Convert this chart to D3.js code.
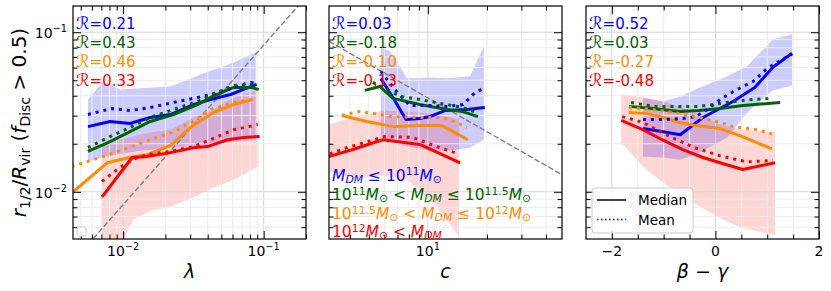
<!DOCTYPE html>
<html><head><meta charset="utf-8">
<script src="https://cdn.jsdelivr.net/npm/d3@7"></script>
<style>body{margin:0;background:#fff} svg{display:block} text{font-family:"DejaVu Sans",sans-serif; white-space:pre}</style>
</head><body><svg id="c" width="831" height="291"></svg>
<script>
// ---------------- DATA ----------------
const massColors = ["#0000ff", "#006400", "#ff8c00", "#ff0000"];
// Panel 1: lambda
const lamBlueMedian = [[0.00562,0.0256],[0.00808,0.0276],[0.0112,0.0268],[0.0156,0.0292],[0.0217,0.0305],[0.0316,0.0352],[0.0418,0.0379],[0.0581,0.0407],[0.0720,0.0438],[0.0891,0.0471]];
const lamBlueMean = [[0.00562,0.0305],[0.00834,0.0333],[0.0112,0.0323],[0.0156,0.0337],[0.0228,0.0363],[0.0338,0.0390],[0.0418,0.0407],[0.0611,0.0451],[0.0808,0.0485],[0.0877,0.0478]];
const lamGreenMedian = [[0.00562,0.0179],[0.00808,0.0206],[0.0112,0.0238],[0.0156,0.0276],[0.0228,0.0305],[0.0338,0.0352],[0.0418,0.0390],[0.0611,0.0451],[0.0808,0.0451],[0.0921,0.0438]];
const lamGreenMean = [[0.00562,0.0189],[0.00808,0.0222],[0.0112,0.0253],[0.0156,0.0292],[0.0228,0.0328],[0.0338,0.0368],[0.0418,0.0401],[0.0611,0.0464],[0.0808,0.0471],[0.0891,0.0464]];
const lamOrangeMedian = [[0.0043,0.0098],[0.00769,0.0152],[0.0112,0.0164],[0.01484,0.0171],[0.0217,0.0195],[0.0301,0.0253],[0.0439,0.0314],[0.0611,0.0352],[0.0834,0.0379]];
const lamOrangeMean = [[0.0043,0.0144],[0.00685,0.0164],[0.0100,0.0184],[0.0156,0.0212],[0.0228,0.0238],[0.0316,0.0276],[0.0418,0.0328],[0.0611,0.0363],[0.0808,0.0379]];
const lamRedMedian = [[0.00708,0.0093],[0.0116,0.0164],[0.01436,0.0166],[0.0217,0.0176],[0.0316,0.0189],[0.0398,0.0192],[0.0553,0.0212],[0.0720,0.0219],[0.0936,0.0222]];
const lamRedMean = [[0.00708,0.0116],[0.00906,0.0138],[0.0116,0.0159],[0.01484,0.0171],[0.0217,0.0179],[0.0316,0.0192],[0.0418,0.0212],[0.0611,0.0245],[0.0781,0.0256],[0.0906,0.0264]];
const lamBlueBand = [[0.00562,0.0154,0.0379],[0.0072,0.0164,0.0492],[0.00952,0.0173,0.0438],[0.0132,0.0181,0.0445],[0.0217,0.0189,0.0457],[0.0355,0.0195,0.0544],[0.0611,0.0206,0.0647],[0.0877,0.0212,0.0748]];
const lamRedBand = [[0.00708,0.0040,0.0192],[0.00952,0.0045,0.0212],[0.01179,0.00667,0.0222],[0.0156,0.0076,0.0235],[0.0217,0.00805,0.0245],[0.0316,0.0092,0.0292],[0.0439,0.0106,0.0328],[0.0611,0.0119,0.0390],[0.0921,0.0144,0.0438]];
const lamDashed = [[0.004,0.00332],[0.25,0.2075]];
const rLambda = ["0.21","0.43","0.46","0.33"];

// Panel 2: concentration c
const cBlueMedian = [[5.75,0.0514],[6.63,0.0390],[7.73,0.0284],[9.10,0.0288],[10.24,0.0296],[12.2,0.0323],[15.8,0.0328],[19.5,0.0337]];
const cBlueMean = [[5.75,0.0569],[6.78,0.0438],[8.09,0.0347],[10.24,0.0347],[12.5,0.0343],[15.1,0.0352],[17.0,0.0407],[19.1,0.0445]];
const cGreenMedian = [[4.77,0.0432],[5.69,0.0457],[6.63,0.0385],[9.10,0.0352],[12.5,0.0328],[14.9,0.0319],[18.0,0.0296]];
const cGreenMean = [[5.24,0.0485],[6.18,0.0438],[7.20,0.0396],[9.10,0.0379],[12.5,0.0352],[15.1,0.0337],[17.8,0.0314]];
const cOrangeMedian = [[3.64,0.0301],[4.88,0.0276],[6.63,0.0256],[8.79,0.0260],[11.8,0.0260],[16.0,0.0212]];
const cOrangeMean = [[3.64,0.0301],[4.50,0.0319],[6.63,0.0296],[9.10,0.0292],[11.9,0.0292],[14.1,0.0272],[15.8,0.0253]];
const cRedMedian = [[3.0,0.0164],[4.14,0.0184],[5.89,0.0212],[9.10,0.0198],[14.6,0.0152]];
const cRedMean = [[3.16,0.0173],[3.86,0.0189],[6.04,0.0222],[8.38,0.0219],[11.1,0.0192],[13.7,0.0176]];
const cBlueBand = [[5.75,0.0222,0.0805],[6.40,0.0206,0.0761],[7.82,0.0192,0.0514],[10.24,0.0181,0.0521],[12.5,0.0181,0.0514],[16.4,0.0189,0.0529],[19.3,0.0212,0.0817]];
const cRedBand = [[3.0,0.0134,0.0260],[4.34,0.0122,0.0296],[5.89,0.0126,0.0323],[7.82,0.0119,0.0319],[10.24,0.00891,0.0310],[12.5,0.00667,0.0296],[14.4,0.00521,0.0284]];
const cDashed = [[3.13,0.0877],[48.3,0.0128]];
const rConc = ["0.03","-0.18","-0.10","-0.13"];

// Panel 3: beta - gamma
const bgBlueMedian = [[-1.40,0.0249],[-1.01,0.0238],[-0.68,0.0228],[-0.24,0.0292],[0.34,0.0368],[0.76,0.0451],[1.11,0.0603],[1.48,0.0738]];
const bgBlueMean = [[-1.40,0.0284],[-1.01,0.0284],[-0.63,0.0288],[-0.38,0.0296],[-0.16,0.0328],[0.09,0.0379],[0.42,0.0438],[0.73,0.0492],[1.0,0.0594],[1.29,0.0676],[1.48,0.0728]];
const bgGreenMedian = [[-1.67,0.0343],[-1.21,0.0333],[-0.70,0.0319],[-0.32,0.0323],[0.09,0.0333],[0.53,0.0347],[1.25,0.0363]];
const bgGreenMean = [[-1.63,0.0363],[-1.21,0.0343],[-0.70,0.0343],[-0.32,0.0343],[-0.05,0.0352],[0.34,0.0368],[0.73,0.0379],[1.11,0.0385]];
const bgOrangeMedian = [[-1.67,0.0314],[-1.34,0.0310],[-1.01,0.0292],[-0.70,0.0272],[-0.38,0.0260],[0.09,0.0249],[0.47,0.0225],[1.09,0.0186]];
const bgOrangeMean = [[-1.67,0.0337],[-1.21,0.0328],[-0.82,0.0314],[-0.38,0.0296],[0.09,0.0272],[0.34,0.0256],[0.80,0.0245],[1.09,0.0231]];
const bgRedMedian = [[-1.82,0.0280],[-1.40,0.0245],[-1.03,0.0212],[-0.63,0.0184],[-0.24,0.0164],[0.15,0.0150],[0.53,0.0138],[1.15,0.0152]];
const bgRedMean = [[-1.80,0.0296],[-1.40,0.0272],[-0.88,0.0222],[-0.40,0.0189],[0.09,0.0168],[0.61,0.0154],[1.11,0.0157]];
const bgBlueBand = [[-1.40,0.0166,0.0390],[-1.01,0.0164,0.0368],[-0.68,0.0159,0.0396],[-0.30,0.0176,0.0451],[0.23,0.0219,0.0529],[0.61,0.0314,0.0611],[1.11,0.0432,0.0904],[1.48,0.0464,0.0971]];
const bgRedBand = [[-1.82,0.0203,0.0407],[-1.40,0.0144,0.0390],[-1.01,0.0114,0.0368],[-0.43,0.00853,0.0319],[0.09,0.00686,0.0264],[0.51,0.00594,0.0245],[1.15,0.00537,0.0238]];
const rBetaGamma = ["0.52","0.03","-0.27","-0.48"];

// Axis ticks
const yMajor = [0.01, 0.1];
const yMinor = [0.006,0.007,0.008,0.009,0.02,0.03,0.04,0.05,0.06,0.07,0.08,0.09];
const lamMajor = [0.01, 0.1];
const lamMinor = [0.005,0.006,0.007,0.008,0.009,0.02,0.03,0.04,0.05,0.06,0.07,0.08,0.09,0.2];
const cMajor = [10];
const cMinor = [4,5,6,7,8,9,20,30,40];
const bgMajor = [-2, 0, 2];
const bgMinor = [-1.5,-1,-0.5,0.5,1,1.5];

// ---------------- DRAWING ----------------
const svg = d3.select("#c");
const T = 6, B = 239;
const y = d3.scaleLog().domain([0.00506, 0.146]).range([B, T]);
const xs = [
  d3.scaleLog().domain([0.0044, 0.2]).range([73, 306]),
  d3.scaleLog().domain([3.13, 48.3]).range([329, 562]),
  d3.scaleLinear().domain([-2.5, 2]).range([586, 819])
];

function rich(sel, parts, fs, supK = 0.42, subK = 0.22){
  let cur = 0;
  parts.forEach(p => {
    const small = p.s === 'sup' || p.s === 'sub';
    const off = p.s === 'sup' ? -supK*fs : p.s === 'sub' ? subK*fs : 0;
    sel.append('tspan').attr('dy', off - cur).attr('font-size', p.fs || (small ? fs*0.7 : fs))
      .attr('font-style', p.i ? 'italic' : 'normal').text(p.t);
    cur = off;
  });
  return sel;
}
function pow10Parts(v){
  const e = Math.round(Math.log10(v));
  return [{t:"10"},{t:(e<0?"\u2212":"")+Math.abs(e), s:'sup'}];
}

const panels = [
  {x: xs[0], major: lamMajor, minor: lamMinor, logX: true,
   bands: [lamBlueBand, lamRedBand], dashed: lamDashed, R: rLambda,
   med: [lamBlueMedian, lamGreenMedian, lamOrangeMedian, lamRedMedian],
   mean: [lamBlueMean, lamGreenMean, lamOrangeMean, lamRedMean],
   xlabel: [{t:"\u03bb", i:1}]},
  {x: xs[1], major: cMajor, minor: cMinor, logX: true,
   bands: [cBlueBand, cRedBand], dashed: cDashed, R: rConc,
   med: [cBlueMedian, cGreenMedian, cOrangeMedian, cRedMedian],
   mean: [cBlueMean, cGreenMean, cOrangeMean, cRedMean],
   xlabel: [{t:"c", i:1}]},
  {x: xs[2], major: bgMajor, minor: bgMinor, logX: false,
   bands: [bgBlueBand, bgRedBand], dashed: null, R: rBetaGamma,
   med: [bgBlueMedian, bgGreenMedian, bgOrangeMedian, bgRedMedian],
   mean: [bgBlueMean, bgGreenMean, bgOrangeMean, bgRedMean],
   xlabel: [{t:"\u03b2 \u2212 \u03b3", i:1}]}
];
const bandColors = [massColors[0], massColors[3]];
const bandOpacity = [0.2, 0.16];

panels.forEach((p, pi) => {
  const x = p.x; const [x0, x1] = x.range();
  const g = svg.append('g');
  const cid = 'clip' + pi;
  svg.append('clipPath').attr('id', cid).append('rect').attr('x', x0).attr('y', T).attr('width', x1-x0).attr('height', B-T);
  const pg = g.append('g').attr('clip-path', `url(#${cid})`);

  // bands
  p.bands.forEach((bd, bi) => {
    pg.append('path').datum(bd)
      .attr('d', d3.area().x(d => x(d[0])).y0(d => y(d[1])).y1(d => y(d[2])))
      .attr('fill', bandColors[bi]).attr('fill-opacity', bandOpacity[bi]).attr('stroke', 'none');
  });
  // grid
  const gx = [...p.major, ...p.minor];
  const gy = [...yMajor, ...yMinor];
  pg.selectAll(null).data(gx).join('line')
    .attr('x1', d => x(d)).attr('x2', d => x(d)).attr('y1', T).attr('y2', B)
    .attr('stroke', d => p.major.includes(d) ? '#d6d6d6' : '#ececec').attr('stroke-width', 1);
  pg.selectAll(null).data(gy).join('line')
    .attr('y1', d => y(d)).attr('y2', d => y(d)).attr('x1', x0).attr('x2', x1)
    .attr('stroke', d => yMajor.includes(d) ? '#d6d6d6' : '#ececec').attr('stroke-width', 1);
  // dashed reference line
  if (p.dashed) {
    pg.append('path').datum(p.dashed)
      .attr('d', d3.line().x(d => x(d[0])).y(d => y(d[1])))
      .attr('stroke', '#808080').attr('stroke-width', 1.4).attr('stroke-dasharray', '5.5,2.4').attr('fill', 'none');
  }
  // lines
  const ln = d3.line().x(d => x(d[0])).y(d => y(d[1]));
  p.med.forEach((s, si) => {
    pg.append('path').datum(s).attr('d', ln).attr('fill', 'none')
      .attr('stroke', massColors[si]).attr('stroke-width', 3).attr('stroke-linejoin', 'round');
  });
  p.mean.forEach((s, si) => {
    pg.append('path').datum(s).attr('d', ln).attr('fill', 'none')
      .attr('stroke', massColors[si]).attr('stroke-width', 3).attr('stroke-dasharray', '3,4.95');
  });

  // axes (inward ticks on all sides)
  const ax = (fn, sc, vals, len, tr) => g.append('g').attr('transform', tr)
     .call(fn(sc).tickValues(vals).tickSizeInner(-len).tickSizeOuter(0).tickFormat(''))
     .call(a => { a.select('.domain').remove(); a.selectAll('line').attr('stroke', '#000').attr('stroke-width', 1); });
  ax(d3.axisBottom, x, p.major, 8, `translate(0,${B})`);
  ax(d3.axisBottom, x, p.minor, 4.5, `translate(0,${B})`);
  ax(d3.axisTop, x, p.major, 8, `translate(0,${T})`);
  ax(d3.axisTop, x, p.minor, 4.5, `translate(0,${T})`);
  ax(d3.axisLeft, y, yMajor, 8, `translate(${x0},0)`);
  ax(d3.axisLeft, y, yMinor, 4.5, `translate(${x0},0)`);
  ax(d3.axisRight, y, yMajor, 8, `translate(${x1},0)`);
  ax(d3.axisRight, y, yMinor, 4.5, `translate(${x1},0)`);
  g.append('rect').attr('x', x0).attr('y', T).attr('width', x1-x0).attr('height', B-T)
    .attr('fill', 'none').attr('stroke', '#000').attr('stroke-width', 1.2);

  // x tick labels
  p.major.forEach(v => {
    const t = g.append('text').attr('x', x(v)).attr('y', 256).attr('text-anchor', 'middle');
    if (p.logX) rich(t, pow10Parts(v), 14);
    else t.attr('font-size', 14).text(v < 0 ? "\u2212" + Math.abs(v) : String(v));
  });
  // x label
  rich(g.append('text').attr('x', (x0+x1)/2).attr('y', 278).attr('text-anchor', 'middle'), p.xlabel, 19);

  // correlation coefficients
  p.R.forEach((r, ri) => {
    rich(g.append('text').attr('x', x0 + 3).attr('y', 29 + ri*19).attr('fill', massColors[ri]),
      [{t:"\u211b", fs:17}, {t:"=" + r}], 15);
  });
});

// y tick labels (left panel only)
yMajor.forEach(v => {
  rich(svg.append('text').attr('x', 67).attr('y', y(v) + 6).attr('text-anchor', 'end'), pow10Parts(v), 14);
});
// y label
rich(svg.append('text').attr('transform', `translate(26,${(T+B)/2}) rotate(-90)`).attr('text-anchor', 'middle'),
  [{t:"r",i:1},{t:"1/2",s:'sub'},{t:"/"},{t:"R",i:1},{t:"vir",s:'sub'},{t:" ("},{t:"f",i:1},{t:"Disc",s:'sub'},{t:" > 0.5)"}], 20);

// empty legend frame in left panel
svg.append('rect').attr('x', 77).attr('y', 227).attr('width', 9).attr('height', 9).attr('rx', 2)
  .attr('fill', '#fff').attr('fill-opacity', 0.8).attr('stroke', '#cccccc').attr('stroke-width', 1);

// mass-bin legend text (middle panel)
const massLabels = [
  [{t:"M",i:1},{t:"DM",i:1,s:'sub'},{t:" \u2264 10"},{t:"11",s:'sup'},{t:"M",i:1},{t:"\u2299",s:'sub'}],
  [{t:"10"},{t:"11",s:'sup'},{t:"M",i:1},{t:"\u2299",s:'sub'},{t:" < "},{t:"M",i:1},{t:"DM",i:1,s:'sub'},{t:" \u2264 10"},{t:"11.5",s:'sup'},{t:"M",i:1},{t:"\u2299",s:'sub'}],
  [{t:"10"},{t:"11.5",s:'sup'},{t:"M",i:1},{t:"\u2299",s:'sub'},{t:" < "},{t:"M",i:1},{t:"DM",i:1,s:'sub'},{t:" \u2264 10"},{t:"12",s:'sup'},{t:"M",i:1},{t:"\u2299",s:'sub'}],
  [{t:"10"},{t:"12",s:'sup'},{t:"M",i:1},{t:"\u2299",s:'sub'},{t:" < "},{t:"M",i:1},{t:"DM",i:1,s:'sub'}]
];
const massBaselines = [180.5, 200, 219, 237];
massLabels.forEach((parts, i) => {
  rich(svg.append('text').attr('x', 332).attr('y', massBaselines[i]).attr('fill', massColors[i]), parts, 15.5, 0.34, 0.16);
});

// Median / Mean legend (right panel)
const lg = svg.append('g');
lg.append('rect').attr('x', 592).attr('y', 188).attr('width', 101).attr('height', 45).attr('rx', 3)
  .attr('fill', '#fff').attr('fill-opacity', 0.8).attr('stroke', '#cccccc').attr('stroke-width', 1);
const legendItems = ["Median", "Mean"];
legendItems.forEach((name, i) => {
  const yy = 200 + i*19.5;
  lg.append('line').attr('x1', 597).attr('x2', 626).attr('y1', yy).attr('y2', yy)
    .attr('stroke', '#000').attr('stroke-width', 1.5).attr('stroke-dasharray', i ? '1.5,2.5' : null);
  lg.append('text').attr('x', 638).attr('y', yy + 5).attr('font-size', 13.5).text(name);
});
</script></body></html>
